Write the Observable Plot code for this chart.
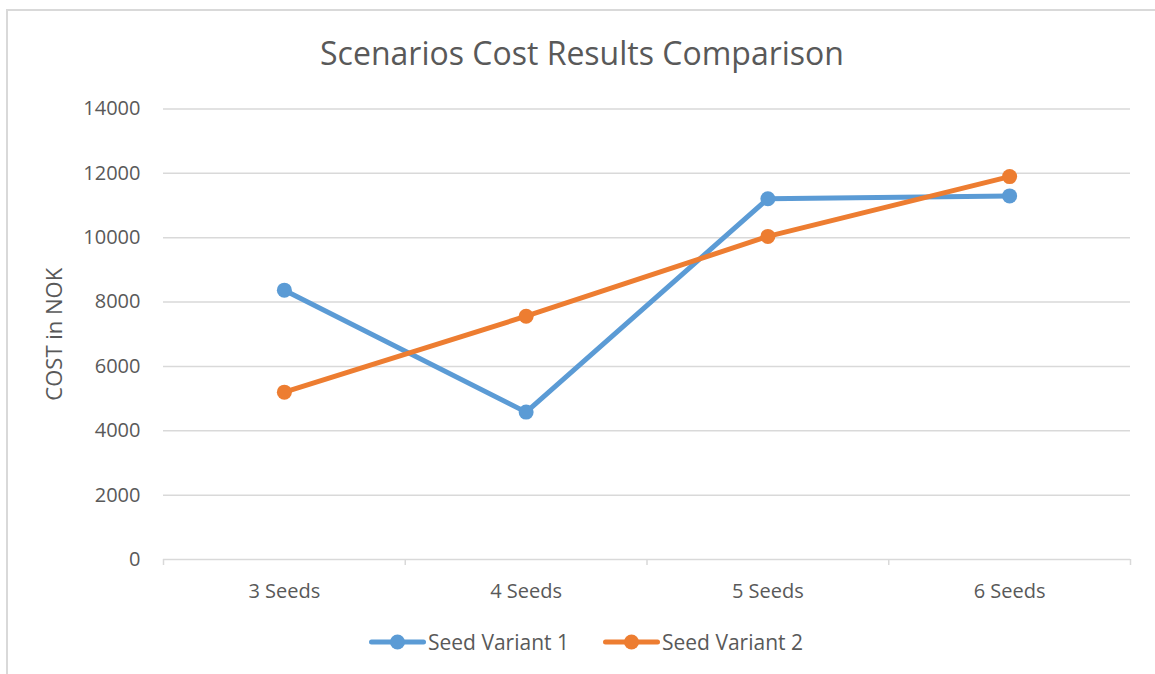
<!DOCTYPE html>
<html>
<head>
<meta charset="utf-8">
<script src="https://cdn.jsdelivr.net/npm/d3@7"></script>
<script src="https://cdn.jsdelivr.net/npm/@observablehq/plot@0.6"></script>
<style>
  html, body { margin: 0; padding: 0; background: #fff; }
  #wrap { position: relative; width: 1155px; height: 674px; overflow: hidden; font-family: "Open Sans", sans-serif; color: #595959; }
  #frame { position: absolute; left: 6px; top: 9px; width: 1200px; height: 700px; border-left: 2px solid #d9d9d9; border-top: 2px solid #d9d9d9; }
  #title { position: absolute; left: 0; width: 1164px; top: 31px; text-align: center; font-size: 32px; line-height: 44px; color: #595959; }
  #chart { position: absolute; left: 0; top: 0; }
  #legend { position: absolute; top: 628px; left: 0; width: 1155px; height: 28px; }
  .item { position: absolute; top: 0; display: flex; align-items: center; font-size: 21px; color: #595959; height: 28px; }
  .item svg { margin-right: 2px; }
</style>
</head>
<body>
<div id="wrap">
  <div id="frame"></div>
  <div id="chart"></div>
  <div id="title">Scenarios Cost Results Comparison</div>
  <div id="legend"></div>
</div>
<script>
const categories = ["3 Seeds", "4 Seeds", "5 Seeds", "6 Seeds"];
const seriesNames = ["Seed Variant 1", "Seed Variant 2"];
const variant1 = [8370, 4580, 11210, 11300];
const variant2 = [5200, 7560, 10040, 11900];
const yTicks = [0, 2000, 4000, 6000, 8000, 10000, 12000, 14000];
const colors = ["#5B9BD5", "#ED7D31"];

const data = [];
[variant1, variant2].forEach((vals, s) => {
  vals.forEach((v, i) => data.push({series: seriesNames[s], idx: i + 0.5, cat: categories[i], value: v}));
});

const boundaries = d3.range(categories.length + 1);
const centers = categories.map((c, i) => i + 0.5);

const chart = Plot.plot({
  width: 1155,
  height: 610,
  marginLeft: 163,
  marginRight: 25,
  marginTop: 108.5,
  marginBottom: 51,
  style: {fontFamily: "Open Sans, sans-serif", fontSize: "20px", color: "#595959", background: "transparent", overflow: "visible"},
  x: {type: "linear", domain: [0, categories.length]},
  y: {domain: [0, 14000]},
  color: {domain: seriesNames, range: colors},
  marks: [
    Plot.gridY(yTicks.filter(t => t > 0), {stroke: "#d9d9d9", strokeOpacity: 1, strokeWidth: 1.5}),
    Plot.ruleY([0], {stroke: "#d9d9d9", strokeWidth: 1.5}),
    Plot.axisY({ticks: yTicks, tickSize: 0, tickPadding: 23, tickFormat: d => String(d), fill: "#595959", label: null}),
    Plot.axisY({ticks: [], label: "COST in NOK", labelAnchor: "center", labelArrow: "none", labelOffset: 117, fontSize: 22, fill: "#595959"}),
    Plot.axisX({ticks: boundaries, tickSize: 6, stroke: "#d9d9d9", strokeWidth: 1.5, tickFormat: () => "", label: null}),
    Plot.axisX({ticks: centers, tickSize: 0, tickPadding: 24, fill: "#595959", tickFormat: d => categories[Math.floor(d)], label: null}),
    Plot.line(data, {x: "idx", y: "value", stroke: "series", z: "series", strokeWidth: 5, strokeLinecap: "round", strokeLinejoin: "round"}),
    Plot.dot(data, {x: "idx", y: "value", fill: "series", r: 7.5, stroke: "none"})
  ]
});
document.getElementById("chart").appendChild(chart);

// legend
const legend = document.getElementById("legend");
const legendX = [369, 603];
seriesNames.forEach((name, i) => {
  const item = document.createElement("div");
  item.className = "item";
  item.style.left = legendX[i] + "px";
  item.innerHTML = `<svg width="57" height="20"><line x1="2.5" y1="10" x2="54.5" y2="10" stroke="${colors[i]}" stroke-width="5" stroke-linecap="round"/><circle cx="28.5" cy="10" r="7.5" fill="${colors[i]}"/></svg><span>${name}</span>`;
  legend.appendChild(item);
});
</script>
</body>
</html>
